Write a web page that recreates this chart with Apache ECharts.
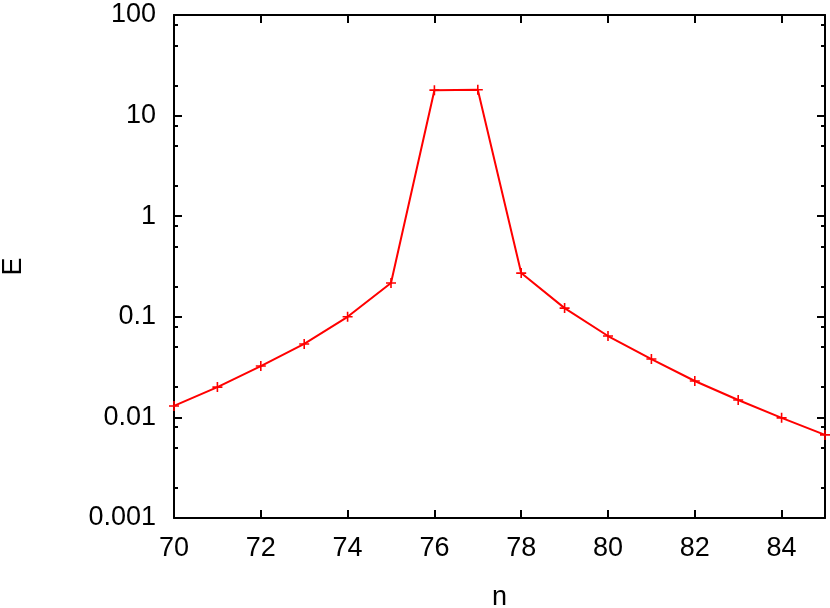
<!DOCTYPE html>
<html>
<head>
<meta charset="utf-8">
<script src="https://cdn.jsdelivr.net/npm/echarts@6/dist/echarts.min.js"></script>
<style>
  html, body { margin: 0; padding: 0; background: #fff; }
  #myChart { width: 830px; height: 608px; }
</style>
</head>
<body>
<div id="myChart"></div>
<script>
// data
let nValues = [70, 71, 72, 73, 74, 75, 76, 77, 78, 79, 80, 81, 82, 83, 84, 85]
let eValues = [0.013, 0.020, 0.0324, 0.0537, 0.100, 0.217, 17.9, 18.1, 0.272, 0.122, 0.0644, 0.038, 0.023, 0.0149, 0.0099, 0.0067]
let xTicks = [70, 72, 74, 76, 78, 80, 82, 84]
let yTicks = [0.001, 0.01, 0.1, 1, 10, 100]
// gnuplot puts minor ticks at 2, 5, 8 of each decade
let minorSteps = [2, 5, 8]

let minorTicks = []
for (let i = 0; i < yTicks.length - 1; i++) {
  for (let s of minorSteps) {
    minorTicks.push(Math.log10(yTicks[i] * s))
  }
}

let font = 'Liberation Sans, Arial, sans-serif'
let black = '#000'

let chart = echarts.init(document.getElementById('myChart'), null, { renderer: 'canvas' })

let xBase = {
  type: 'value',
  min: 70,
  max: 85,
  interval: 2,
  splitLine: { show: false },
  axisLine: { show: true, onZero: false, lineStyle: { color: black, width: 2 } },
  axisTick: { show: true, inside: true, length: 8, lineStyle: { color: black, width: 2 }, customValues: xTicks }
}

let yMinorBase = {
  type: 'value',
  min: -3,
  max: 2,
  splitLine: { show: false },
  axisLabel: { show: false },
  axisLine: { show: false },
  axisTick: { show: true, inside: true, length: 4, lineStyle: { color: black, width: 2 }, customValues: minorTicks }
}

let option = {
  animation: false,
  backgroundColor: '#fff',
  grid: {
    left: 174,
    right: 5,
    top: 15,
    bottom: 90,
    outerBoundsMode: 'none'
  },
  xAxis: [
    Object.assign({}, xBase, {
      position: 'bottom',
      name: 'n',
      nameLocation: 'middle',
      nameGap: 66,
      nameTextStyle: { color: black, fontSize: 27, fontFamily: font },
      axisLabel: { show: true, margin: 17, color: black, fontSize: 27, fontFamily: font, customValues: xTicks }
    }),
    Object.assign({}, xBase, {
      position: 'top',
      axisLabel: { show: false }
    })
  ],
  yAxis: [
    {
      type: 'log',
      logBase: 10,
      min: 0.001,
      max: 100,
      position: 'left',
      name: 'E',
      nameLocation: 'middle',
      nameRotate: 90,
      nameGap: 147,
      nameTextStyle: { color: black, fontSize: 27, fontFamily: font },
      splitLine: { show: false },
      axisLine: { show: true, onZero: false, lineStyle: { color: black, width: 2 } },
      axisTick: { show: true, inside: true, length: 8, lineStyle: { color: black, width: 2 } },
      axisLabel: {
        margin: 18,
        color: black,
        fontSize: 27,
        fontFamily: font,
        formatter: function (v) { return String(Number(v.toPrecision(3))) }
      }
    },
    {
      type: 'log',
      logBase: 10,
      min: 0.001,
      max: 100,
      position: 'right',
      splitLine: { show: false },
      axisLabel: { show: false },
      axisLine: { show: true, onZero: false, lineStyle: { color: black, width: 2 } },
      axisTick: { show: true, inside: true, length: 8, lineStyle: { color: black, width: 2 } }
    },
    Object.assign({}, yMinorBase, { position: 'left' }),
    Object.assign({}, yMinorBase, { position: 'right' })
  ],
  series: [
    {
      type: 'line',
      xAxisIndex: 0,
      yAxisIndex: 0,
      data: nValues.map((n, i) => [n, eValues[i]]),
      symbol: 'path://M4.2,0H5.8V4.2H10V5.8H5.8V10H4.2V5.8H0V4.2H4.2Z',
      symbolSize: 10,
      showAllSymbol: true,
      clip: false,
      itemStyle: { color: '#ff0000' },
      lineStyle: { color: '#ff0000', width: 2 }
    }
  ]
}

chart.setOption(option)
</script>
</body>
</html>
